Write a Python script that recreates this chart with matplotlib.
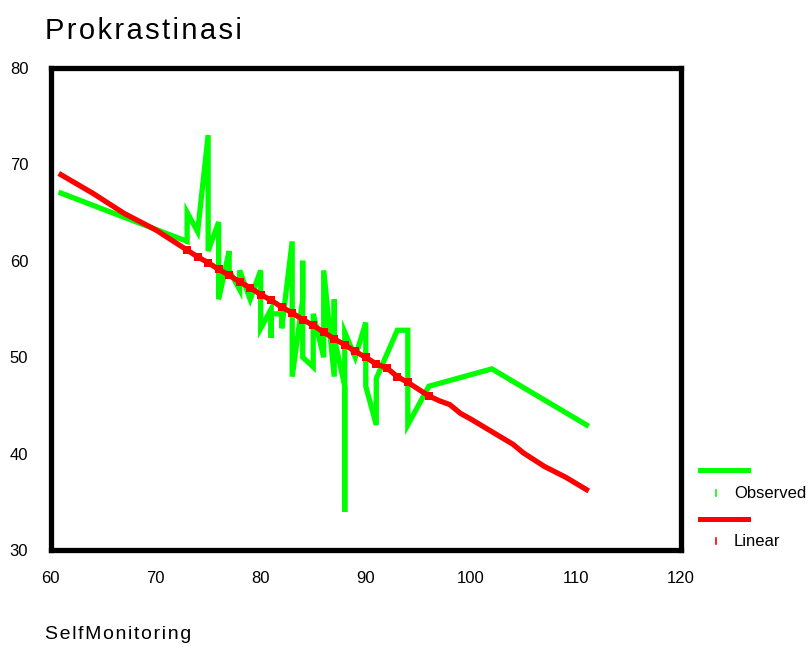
import matplotlib
matplotlib.use('Agg')
import matplotlib.pyplot as plt
from matplotlib.lines import Line2D

plt.rcParams['font.family'] = ['Liberation Sans', 'DejaVu Sans']

# Observed values, sorted by Self Monitoring score
obs_x = [61, 73, 73, 74, 75, 75, 76, 76, 77, 77, 78, 78, 79, 80, 80, 81, 81, 81,
         82, 82, 83, 83, 84, 84, 84, 85, 85, 86, 86, 87, 87, 87, 88, 88, 88, 89,
         90, 90, 91, 91, 93, 94, 94, 96, 102, 111]
obs_y = [67, 62, 65, 63, 73, 61, 64, 56, 61, 59, 57, 59, 56, 59, 53, 55, 52, 54.5,
         54.5, 53, 62, 48, 56, 60, 50, 49, 54.5, 50, 59, 48, 56, 52, 47, 34, 52.6, 50,
         53.6, 47, 43, 47.8, 52.8, 52.8, 43, 47, 48.8, 43]

# Linear fit curve
fit_x = [61, 64, 67, 70, 73, 74, 75, 76, 77, 78, 79, 80, 81, 82, 83, 84, 85, 86,
         87, 88, 89, 90, 91, 92, 93, 94, 96, 97, 98, 99, 100, 102, 104, 105, 107,
         109, 111]
fit_y = [68.9, 67.0, 64.9, 63.2, 61.1, 60.4, 59.8, 59.1, 58.5, 57.8, 57.2, 56.5,
         55.9, 55.2, 54.6, 53.9, 53.3, 52.6, 51.9, 51.3, 50.6, 50.0, 49.3, 48.9,
         48.0, 47.4, 46.0, 45.5, 45.1, 44.2, 43.6, 42.3, 41.0, 40.1, 38.7, 37.6, 36.3]

x_ticks = [60, 70, 80, 90, 100, 110, 120]
y_ticks = [30, 40, 50, 60, 70, 80]

green = '#00ff00'
red = '#ff0000'


def spaced(s):
    # loose letter spacing with hair spaces
    return '\u200a'.join(s)


fig = plt.figure(figsize=(8.12, 6.48), dpi=100)
ax = fig.add_axes([0.0622, 0.1505, 0.7765, 0.7453])

ax.plot(obs_x, obs_y, color=green, linewidth=3.8, solid_joinstyle='miter')
ax.plot(fit_x, fit_y, color=red, linewidth=3.8, marker='s', markersize=6,
        markevery=slice(4, 27), markeredgewidth=0)

ax.set_xlim(60, 120)
ax.set_ylim(30, 80)
ax.set_xticks(x_ticks)
ax.set_yticks(y_ticks)
ax.tick_params(length=0, labelsize=12, pad=15)
ax.tick_params(axis='y', pad=16)
for sp in ax.spines.values():
    sp.set_linewidth(3.8)
    sp.set_color('black')

fig.text(0.055, 0.952, spaced('Prokrastinasi'), fontsize=21, ha='left', va='center')
fig.text(0.055, 0.021, spaced('SelfMonitoring'), fontsize=14, ha='left', va='center')

# Legend drawn outside the plot area
def legend_entry(y_line, y_tick, color, label):
    fig.add_artist(Line2D([700 / 812, 748 / 812], [1 - y_line / 648] * 2,
                          color=color, linewidth=3.6))
    fig.add_artist(Line2D([716 / 812] * 2, [1 - (y_tick - 3) / 648, 1 - (y_tick + 3) / 648],
                          color=color, linewidth=1.2))
    fig.text(734 / 812, 1 - y_tick / 648, label, fontsize=12, ha='left', va='center')

legend_entry(470, 493, green, 'Observed')
legend_entry(519, 541, red, 'Linear')

fig.savefig('out.png', dpi=100)
plt.close(fig)
